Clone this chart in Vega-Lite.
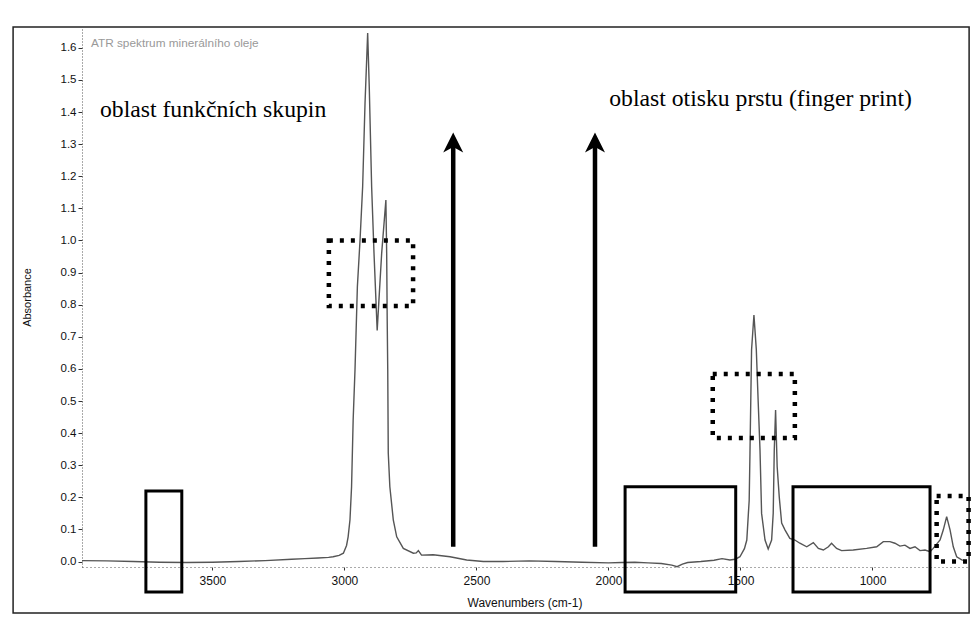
{
  "$schema": "https://vega.github.io/schema/vega-lite/v6.json",
  "width": 885,
  "height": 540,
  "autosize": "none",
  "padding": {"left": 82, "top": 27, "right": 7, "bottom": 67},
  "background": "white",
  "config": {"view": {"stroke": null}, "font": "Liberation Sans"},
  "datasets": {
    "spectrum": [
      {"w": 3994, "a": 0.003}, {"w": 3900, "a": 0.002}, {"w": 3800, "a": 0.0}, {"w": 3700, "a": -0.002},
      {"w": 3600, "a": -0.003}, {"w": 3500, "a": -0.002}, {"w": 3400, "a": 0.0}, {"w": 3300, "a": 0.003},
      {"w": 3200, "a": 0.007}, {"w": 3150, "a": 0.009}, {"w": 3100, "a": 0.011}, {"w": 3060, "a": 0.013},
      {"w": 3043, "a": 0.015}, {"w": 3020, "a": 0.019}, {"w": 3004, "a": 0.026}, {"w": 2992, "a": 0.05},
      {"w": 2986, "a": 0.077}, {"w": 2979, "a": 0.13}, {"w": 2973, "a": 0.233}, {"w": 2967, "a": 0.44},
      {"w": 2960, "a": 0.597}, {"w": 2951, "a": 0.856}, {"w": 2941, "a": 1.0}, {"w": 2931, "a": 1.168},
      {"w": 2922, "a": 1.428}, {"w": 2912, "a": 1.646}, {"w": 2906, "a": 1.479}, {"w": 2897, "a": 1.168},
      {"w": 2888, "a": 0.96}, {"w": 2876, "a": 0.72}, {"w": 2859, "a": 0.96}, {"w": 2843, "a": 1.126},
      {"w": 2840, "a": 0.96}, {"w": 2838, "a": 0.75}, {"w": 2836, "a": 0.6}, {"w": 2834, "a": 0.338},
      {"w": 2828, "a": 0.233}, {"w": 2815, "a": 0.13}, {"w": 2802, "a": 0.077}, {"w": 2777, "a": 0.041},
      {"w": 2739, "a": 0.026}, {"w": 2728, "a": 0.027}, {"w": 2720, "a": 0.034}, {"w": 2708, "a": 0.02},
      {"w": 2664, "a": 0.021}, {"w": 2600, "a": 0.015}, {"w": 2537, "a": 0.005}, {"w": 2474, "a": 0.0},
      {"w": 2400, "a": 0.0}, {"w": 2300, "a": 0.002}, {"w": 2200, "a": 0.0}, {"w": 2100, "a": -0.002},
      {"w": 2000, "a": -0.004}, {"w": 1950, "a": -0.003}, {"w": 1900, "a": -0.002}, {"w": 1850, "a": -0.004},
      {"w": 1800, "a": -0.006}, {"w": 1760, "a": -0.011}, {"w": 1740, "a": -0.016}, {"w": 1720, "a": -0.008},
      {"w": 1700, "a": -0.003}, {"w": 1650, "a": 0.0}, {"w": 1600, "a": 0.004}, {"w": 1570, "a": 0.009},
      {"w": 1540, "a": 0.005}, {"w": 1520, "a": 0.007}, {"w": 1502, "a": 0.015}, {"w": 1485, "a": 0.04},
      {"w": 1476, "a": 0.067}, {"w": 1470, "a": 0.15}, {"w": 1467, "a": 0.19}, {"w": 1464, "a": 0.338},
      {"w": 1458, "a": 0.659}, {"w": 1449, "a": 0.768}, {"w": 1440, "a": 0.66}, {"w": 1433, "a": 0.5},
      {"w": 1426, "a": 0.347}, {"w": 1420, "a": 0.15}, {"w": 1407, "a": 0.067}, {"w": 1395, "a": 0.039},
      {"w": 1382, "a": 0.067}, {"w": 1376, "a": 0.15}, {"w": 1372, "a": 0.347}, {"w": 1367, "a": 0.472},
      {"w": 1361, "a": 0.295}, {"w": 1353, "a": 0.2}, {"w": 1344, "a": 0.12}, {"w": 1331, "a": 0.098},
      {"w": 1313, "a": 0.072}, {"w": 1294, "a": 0.067}, {"w": 1275, "a": 0.057}, {"w": 1249, "a": 0.046},
      {"w": 1224, "a": 0.059}, {"w": 1205, "a": 0.041}, {"w": 1186, "a": 0.036}, {"w": 1167, "a": 0.046},
      {"w": 1155, "a": 0.057}, {"w": 1136, "a": 0.041}, {"w": 1117, "a": 0.034}, {"w": 1073, "a": 0.036},
      {"w": 1022, "a": 0.041}, {"w": 984, "a": 0.046}, {"w": 959, "a": 0.062}, {"w": 934, "a": 0.062},
      {"w": 915, "a": 0.057}, {"w": 896, "a": 0.048}, {"w": 877, "a": 0.051}, {"w": 858, "a": 0.041},
      {"w": 839, "a": 0.046}, {"w": 820, "a": 0.034}, {"w": 801, "a": 0.036}, {"w": 782, "a": 0.031},
      {"w": 770, "a": 0.041}, {"w": 744, "a": 0.067}, {"w": 732, "a": 0.098}, {"w": 719, "a": 0.14},
      {"w": 706, "a": 0.098}, {"w": 694, "a": 0.046}, {"w": 681, "a": 0.015}, {"w": 662, "a": 0.005},
      {"w": 655, "a": 0.004}
    ],
    "boxes": [
      {"x1": 3752, "x2": 3616, "y1": 0.22, "y2": -0.095, "kind": "solid"},
      {"x1": 1937, "x2": 1518, "y1": 0.233, "y2": -0.095, "kind": "solid"},
      {"x1": 1301, "x2": 782, "y1": 0.233, "y2": -0.095, "kind": "solid"},
      {"x1": 3059, "x2": 2740, "y1": 1.0, "y2": 0.796, "kind": "dotted"},
      {"x1": 1605, "x2": 1294, "y1": 0.584, "y2": 0.385, "kind": "dotted"},
      {"x1": 757, "x2": 636, "y1": 0.204, "y2": 0.0, "kind": "dotted"}
    ],
    "arrows": [
      {"x": 2588, "y0": 0.046, "y1": 1.3, "head": 1.305},
      {"x": 2051, "y0": 0.046, "y1": 1.3, "head": 1.305}
    ],
    "frame": [
      {"x1": 4255, "x2": 634, "y1": 1.665, "y2": -0.16}
    ],
    "labels": [
      {"x": 3926, "y": 1.386, "t": "oblast funkčních skupin"},
      {"x": 1997, "y": 1.419, "t": "oblast otisku prstu (finger print)"}
    ],
    "note": [
      {"x": 3960, "y": 1.615, "t": "ATR spektrum minerálního oleje"}
    ]
  },
  "layer": [
    {
      "data": {"name": "spectrum"},
      "mark": {"type": "line", "stroke": "#555", "strokeWidth": 1.4},
      "encoding": {
        "x": {
          "field": "w", "type": "quantitative",
          "scale": {"domain": [3994, 642], "nice": false, "zero": false},
          "axis": {
            "title": "Wavenumbers (cm-1)", "values": [3500, 3000, 2500, 2000, 1500, 1000], "tickCount": 20,
            "format": "d", "grid": false, "domainColor": "#555", "domainDash": [1, 3], "domainWidth": 1,
            "tickColor": "#333", "tickSize": 3, "labelPadding": 5, "labelFont": "Liberation Sans",
            "labelFontSize": 12, "labelColor": "#111", "labelOverlap": false, "titleFont": "Liberation Sans", "titleFontSize": 12,
            "titleFontWeight": "normal", "titleColor": "#111", "titlePadding": 11
          }
        },
        "y": {
          "field": "a", "type": "quantitative",
          "scale": {"domain": [-0.017, 1.665], "nice": false, "zero": false},
          "axis": {
            "title": "Absorbance", "values": [0, 0.1, 0.2, 0.3, 0.4, 0.5, 0.6, 0.7, 0.8, 0.9, 1.0, 1.1, 1.2, 1.3, 1.4, 1.5, 1.6], "tickCount": 40,
            "format": ".1f", "grid": false, "domainColor": "#555", "domainDash": [1, 2], "domainWidth": 1,
            "tickColor": "#333", "tickSize": 4, "labelPadding": 2, "labelFont": "Liberation Sans",
            "labelFontSize": 11.5, "labelColor": "#111", "labelOverlap": false, "titleFont": "Liberation Sans", "titleFontSize": 11,
            "titleFontWeight": "normal", "titleColor": "#111", "titlePadding": 28
          }
        }
      }
    },
    {
      "data": {"name": "frame"},
      "mark": {"type": "rect", "filled": false, "stroke": "#222", "strokeWidth": 1.5},
      "encoding": {
        "x": {"field": "x1", "type": "quantitative"},
        "x2": {"field": "x2"},
        "y": {"field": "y1", "type": "quantitative"},
        "y2": {"field": "y2"}
      }
    },
    {
      "data": {"name": "boxes"},
      "transform": [{"filter": "datum.kind === 'solid'"}],
      "mark": {"type": "rect", "filled": false, "stroke": "black", "strokeWidth": 3},
      "encoding": {
        "x": {"field": "x1", "type": "quantitative"},
        "x2": {"field": "x2"},
        "y": {"field": "y1", "type": "quantitative"},
        "y2": {"field": "y2"}
      }
    },
    {
      "data": {"name": "boxes"},
      "transform": [{"filter": "datum.kind === 'dotted'"}],
      "mark": {"type": "rect", "filled": false, "stroke": "black", "strokeWidth": 4.5, "strokeDash": [4, 7]},
      "encoding": {
        "x": {"field": "x1", "type": "quantitative"},
        "x2": {"field": "x2"},
        "y": {"field": "y1", "type": "quantitative"},
        "y2": {"field": "y2"}
      }
    },
    {
      "data": {"name": "arrows"},
      "mark": {"type": "rule", "stroke": "black", "strokeWidth": 4.5},
      "encoding": {
        "x": {"field": "x", "type": "quantitative"},
        "y": {"field": "y0", "type": "quantitative"},
        "y2": {"field": "y1"}
      }
    },
    {
      "data": {"name": "arrows"},
      "mark": {"type": "point", "shape": "M0,-1L1,1L0,0.45L-1,1Z", "filled": true, "fill": "black", "stroke": null, "size": 400, "opacity": 1},
      "encoding": {
        "x": {"field": "x", "type": "quantitative"},
        "y": {"field": "head", "type": "quantitative"}
      }
    },
    {
      "data": {"name": "labels"},
      "mark": {"type": "text", "font": "Liberation Serif", "fontSize": 23.7, "align": "left", "baseline": "alphabetic", "color": "black"},
      "encoding": {
        "x": {"field": "x", "type": "quantitative"},
        "y": {"field": "y", "type": "quantitative"},
        "text": {"field": "t"}
      }
    },
    {
      "data": {"name": "note"},
      "mark": {"type": "text", "font": "Liberation Sans", "fontSize": 11.8, "align": "left", "baseline": "middle", "color": "#999"},
      "encoding": {
        "x": {"field": "x", "type": "quantitative"},
        "y": {"field": "y", "type": "quantitative"},
        "text": {"field": "t"}
      }
    }
  ]
}
